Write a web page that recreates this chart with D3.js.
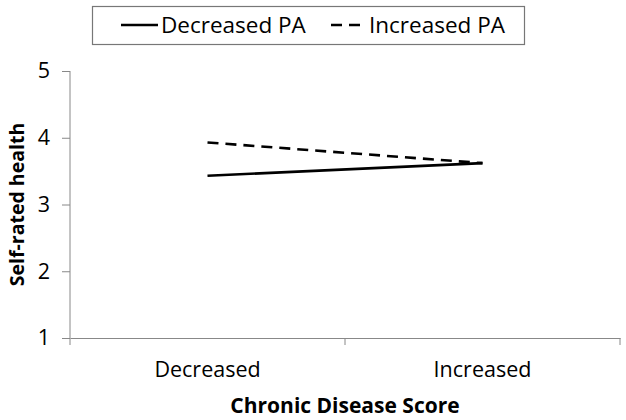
<!DOCTYPE html>
<html><head><meta charset="utf-8">
<script src="https://cdn.jsdelivr.net/npm/d3@7"></script>
<style>body{margin:0;background:#fff}svg{display:block}text{font-family:"Open Sans","Liberation Sans",sans-serif}</style>
</head><body><svg id="c" width="626" height="420"></svg>
<script>
const categories = ["Decreased", "Increased"];
const seriesNames = ["Decreased PA", "Increased PA"];
const decreasedPA = [3.43, 3.62];
const increasedPA = [3.93, 3.62];
const yTicks = [1, 2, 3, 4, 5];

const svg = d3.select("#c");
const m = {l: 70, r: 6, t: 71, b: 82};
const W = 626, H = 420;
const x = d3.scaleBand().domain(categories).range([m.l, W - m.r]);
const y = d3.scaleLinear().domain([1, 5]).range([H - m.b, m.t]);
const axisCol = "#888";

const xAxis = svg.append("g").attr("transform", `translate(0,${H - m.b})`)
  .call(d3.axisBottom(x).tickSize(0).tickPadding(24));
xAxis.select(".domain").attr("stroke", axisCol);
xAxis.selectAll("text").attr("font-size", 21.5).attr("fill", "#000");
const bounds = [x.range()[0], ...categories.map(c => x(c) + x.bandwidth())];
xAxis.selectAll(".bt").data(bounds).enter().append("line")
  .attr("x1", d => d).attr("x2", d => d).attr("y1", 0).attr("y2", 7)
  .attr("stroke", axisCol);

const yAxis = svg.append("g").attr("transform", `translate(${m.l},0)`)
  .call(d3.axisLeft(y).tickValues(yTicks).tickFormat(d3.format("d")).tickSize(8).tickPadding(12));
yAxis.select(".domain").attr("stroke", axisCol).attr("d", `M0,${y(5)}V${y(1)}`);
yAxis.selectAll(".tick line").attr("stroke", axisCol);
yAxis.selectAll("text").attr("font-size", 21.5).attr("fill", "#000");

const line = d3.line().x((d, i) => x(categories[i]) + x.bandwidth() / 2).y(d => y(d));
svg.append("path").datum(decreasedPA).attr("d", line)
  .attr("fill", "none").attr("stroke", "#000").attr("stroke-width", 2.6);
svg.append("path").datum(increasedPA).attr("d", line)
  .attr("fill", "none").attr("stroke", "#000").attr("stroke-width", 2.6).attr("stroke-dasharray", "11,7");

svg.append("text").attr("x", (m.l + W - m.r) / 2).attr("y", 413).attr("text-anchor", "middle")
  .attr("font-size", 21).attr("font-weight", "bold").text("Chronic Disease Score");
svg.append("text").attr("transform", `translate(24,${(y(5) + y(1)) / 2}) rotate(-90)`).attr("text-anchor", "middle")
  .attr("font-size", 19.5).attr("font-weight", "bold").text("Self-rated health");

const lg = svg.append("g");
lg.append("rect").attr("x", 92.5).attr("y", 6.5).attr("width", 432).attr("height", 38)
  .attr("fill", "#fff").attr("stroke", "#777").attr("stroke-width", 1.2);
const items = [{name: seriesNames[0], dash: null, x1: 121, x2: 158, tx: 161},
               {name: seriesNames[1], dash: "11,7", x1: 331, x2: 362, tx: 369}];
items.forEach(it => {
  lg.append("line").attr("x1", it.x1).attr("x2", it.x2).attr("y1", 25).attr("y2", 25)
    .attr("stroke", "#000").attr("stroke-width", 2.6).attr("stroke-dasharray", it.dash);
  lg.append("text").attr("x", it.tx).attr("y", 33).attr("font-size", 22.5).text(it.name);
});
</script></body></html>
